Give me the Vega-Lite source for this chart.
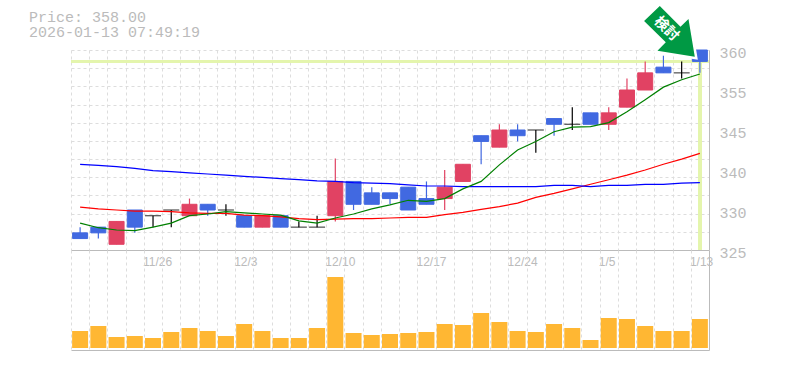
{"$schema":"https://vega.github.io/schema/vega-lite/v6.json","padding":{"left":29,"top":-4,"right":5,"bottom":5},"background":"white","title":{"text":["Price: 358.00","2026-01-13 07:49:19"],"anchor":"start","frame":"group","dx":-42,"offset":-44,"font":"Liberation Mono","fontSize":15,"fontWeight":"normal","color":"#bbbbbb","lineHeight":15},"config":{"view":{"stroke":null},"axis":{"gridColor":"#dddddd","gridDash":[3,3],"gridWidth":1,"domainColor":"#bbbbbb","ticks":false}},"datasets":{"d":[
{"date":"11/19","open":328,"high":329,"low":327,"close":327,"dir":"down","volume":17000,"ma5":329.7,"ma25":332.5,"ma75":340.0},
{"date":"11/20","open":329,"high":329,"low":327,"close":328,"dir":"down","volume":22000,"ma5":328.9,"ma25":332.2,"ma75":339.8},
{"date":"11/21","open":326,"high":330,"low":326,"close":330,"dir":"up","volume":11000,"ma5":328.5,"ma25":332.0,"ma75":339.6},
{"date":"11/25","open":332,"high":332,"low":328,"close":329,"dir":"down","volume":12000,"ma5":328.4,"ma25":331.8,"ma75":339.3},
{"date":"11/26","open":331,"high":331,"low":329,"close":331,"dir":"flat","volume":10000,"ma5":329.0,"ma25":331.8,"ma75":338.9},
{"date":"11/27","open":332,"high":332,"low":329,"close":332,"dir":"flat","volume":16000,"ma5":329.7,"ma25":331.7,"ma75":338.7},
{"date":"11/28","open":331,"high":334,"low":331,"close":333,"dir":"up","volume":20000,"ma5":331.0,"ma25":331.5,"ma75":338.5},
{"date":"12/1","open":333,"high":333,"low":331,"close":332,"dir":"down","volume":17000,"ma5":331.3,"ma25":331.4,"ma75":338.3},
{"date":"12/2","open":332,"high":333,"low":331,"close":332,"dir":"flat","volume":12000,"ma5":331.7,"ma25":331.4,"ma75":338.1},
{"date":"12/3","open":331,"high":331,"low":329,"close":329,"dir":"down","volume":24000,"ma5":331.5,"ma25":331.1,"ma75":337.9},
{"date":"12/4","open":329,"high":331,"low":329,"close":331,"dir":"up","volume":17000,"ma5":331.3,"ma25":331.0,"ma75":337.7},
{"date":"12/5","open":331,"high":331,"low":329,"close":329,"dir":"down","volume":10000,"ma5":331.1,"ma25":330.8,"ma75":337.5},
{"date":"12/8","open":329,"high":330,"low":329,"close":329,"dir":"flat","volume":10000,"ma5":330.1,"ma25":330.5,"ma75":337.3},
{"date":"12/9","open":329,"high":331,"low":329,"close":329,"dir":"flat","volume":20000,"ma5":329.7,"ma25":330.3,"ma75":337.1},
{"date":"12/10","open":331,"high":341,"low":330,"close":337,"dir":"up","volume":71000,"ma5":330.6,"ma25":330.4,"ma75":337.0},
{"date":"12/11","open":337,"high":337,"low":332,"close":333,"dir":"down","volume":15000,"ma5":331.3,"ma25":330.5,"ma75":336.8},
{"date":"12/12","open":335,"high":336,"low":333,"close":333,"dir":"down","volume":13000,"ma5":332.2,"ma25":330.5,"ma75":336.7},
{"date":"12/15","open":335,"high":335,"low":333,"close":334,"dir":"down","volume":14000,"ma5":332.9,"ma25":330.6,"ma75":336.6},
{"date":"12/16","open":336,"high":336,"low":332,"close":332,"dir":"down","volume":15000,"ma5":333.7,"ma25":330.7,"ma75":336.4},
{"date":"12/17","open":334,"high":337,"low":333,"close":333,"dir":"down","volume":16000,"ma5":333.5,"ma25":330.7,"ma75":336.2},
{"date":"12/18","open":334,"high":339,"low":332,"close":336,"dir":"up","volume":24000,"ma5":334.0,"ma25":331.2,"ma75":336.2},
{"date":"12/19","open":337,"high":340,"low":337,"close":340,"dir":"up","volume":23000,"ma5":335.7,"ma25":331.6,"ma75":336.1},
{"date":"12/22","open":345,"high":345,"low":340,"close":344,"dir":"down","volume":35000,"ma5":337.0,"ma25":332.1,"ma75":336.1},
{"date":"12/23","open":343,"high":347,"low":343,"close":346,"dir":"up","volume":26000,"ma5":339.9,"ma25":332.6,"ma75":336.1},
{"date":"12/24","open":346,"high":347,"low":344,"close":345,"dir":"down","volume":17000,"ma5":342.5,"ma25":333.2,"ma75":336.1},
{"date":"12/25","open":346,"high":346,"low":342,"close":346,"dir":"flat","volume":16000,"ma5":344.0,"ma25":334.2,"ma75":336.1},
{"date":"12/26","open":348,"high":348,"low":345,"close":347,"dir":"down","volume":24000,"ma5":345.7,"ma25":334.9,"ma75":336.3},
{"date":"12/29","open":347,"high":350,"low":346,"close":347,"dir":"flat","volume":20000,"ma5":346.5,"ma25":335.7,"ma75":336.3},
{"date":"12/30","open":349,"high":349,"low":347,"close":347,"dir":"down","volume":8000,"ma5":346.6,"ma25":336.5,"ma75":336.1},
{"date":"1/5","open":347,"high":350,"low":346,"close":349,"dir":"up","volume":30000,"ma5":347.3,"ma25":337.3,"ma75":336.3},
{"date":"1/6","open":350,"high":355,"low":350,"close":353,"dir":"up","volume":29000,"ma5":349.2,"ma25":338.1,"ma75":336.3},
{"date":"1/7","open":353,"high":358,"low":353,"close":356,"dir":"up","volume":22000,"ma5":351.3,"ma25":339.0,"ma75":336.5},
{"date":"1/8","open":357,"high":359,"low":356,"close":356,"dir":"down","volume":17000,"ma5":353.5,"ma25":340.0,"ma75":336.5},
{"date":"1/9","open":356,"high":358,"low":355,"close":356,"dir":"flat","volume":17000,"ma5":354.8,"ma25":340.9,"ma75":336.7},
{"date":"1/13","open":360,"high":360,"low":356,"close":358,"dir":"down","volume":29000,"ma5":355.8,"ma25":341.9,"ma75":336.8}
]},"spacing":0,"bounds":"flush","vconcat":[
{"width":638,"height":200,"data":{"name":"d"},"resolve":{"axis":{"y":"independent"}},
"encoding":{"x":{"field":"date","type":"nominal","sort":null,"title":null,"scale":{"paddingInner":0,"paddingOuter":0,"domain":["11/19","11/20","11/21","11/25","11/26","11/27","11/28","12/1","12/2","12/3","12/4","12/5","12/8","12/9","12/10","12/11","12/12","12/15","12/16","12/17","12/18","12/19","12/22","12/23","12/24","12/25","12/26","12/29","12/30","1/5","1/6","1/7","1/8","1/9","1/13"]},"axis":{"orient":"bottom","tickBand":"extent","grid":true,"gridDash":[3,3],"labelAngle":0,"labelAlign":"left","labelOffset":-10.5,"labelPadding":6,"labelFont":"Liberation Sans","labelFontSize":12,"labelColor":"#bbbbbb","labelOverlap":false,"labelBound":false,"labelFlush":false,"domain":true,"labelExpr":"indexof(['11/26','12/3','12/10','12/17','12/24','1/5','1/13'],datum.label)>=0?datum.label:''"}}},
"layer":[
{"mark":{"type":"rule","color":"#e4f5ad","strokeWidth":3},"encoding":{"y":{"datum":358,"type":"quantitative","scale":{"domain":[325,360],"nice":false,"zero":false},"title":null,"axis":{"orient":"left","values":[360,356.82,353.64,350.45,347.27,344.09,340.91,337.73,334.55,331.36,328.18,325],"labels":false,"domain":false,"grid":true}},"x":null}},
{"mark":{"type":"rule","color":"#e4f5ad","strokeWidth":3},"encoding":{"x":{"datum":"1/13"}}},
{"mark":{"type":"rule","strokeWidth":1.2},"encoding":{"y":{"field":"low","type":"quantitative","title":null,"axis":{"orient":"right","values":[360,353,346,339,332,325],"grid":false,"domain":true,"labelExpr":"round(datum.value/5)*5","labelFont":"Liberation Mono","labelFontSize":15,"labelColor":"#bbbbbb","labelPadding":10,"labelOffset":2.5,"labelBound":false,"labelFlush":false}},"y2":{"field":"high"},"color":{"field":"dir","type":"nominal","scale":{"domain":["up","down","flat"],"range":["#e14263","#4169e1","#000000"]},"legend":null}}},
{"transform":[{"filter":"datum.dir!='flat'"}],"mark":{"type":"bar","size":15,"strokeWidth":1},"encoding":{"y":{"field":"open","type":"quantitative","axis":null},"y2":{"field":"close"},"color":{"field":"dir","type":"nominal","legend":null},"stroke":{"field":"dir","type":"nominal","legend":null,"scale":{"domain":["up","down","flat"],"range":["#e14263","#4169e1","#000000"]}}}},
{"transform":[{"filter":"datum.dir=='flat'"}],"mark":{"type":"tick","size":16,"thickness":1.2,"color":"#000000","orient":"horizontal"},"encoding":{"y":{"field":"close","type":"quantitative","axis":null}}},
{"mark":{"type":"line","color":"#ff0000","strokeWidth":1.2},"encoding":{"y":{"field":"ma25","type":"quantitative","axis":null}}},
{"mark":{"type":"line","color":"#0000ff","strokeWidth":1.2},"encoding":{"y":{"field":"ma75","type":"quantitative","axis":null}}},
{"mark":{"type":"line","color":"#008000","strokeWidth":1.2},"encoding":{"y":{"field":"ma5","type":"quantitative","axis":null}}},
{"data":{"values":[{"date":"1/13","price":358}]},"mark":{"type":"point","filled":true,"clip":false,"size":4,"opacity":1,"color":"#009944","stroke":"#ffffff","strokeWidth":5,"strokeOpacity":1,"shape":"M-40.1 -55.4L-55.8 -40.4L-34.1 -19.1L-42.4 -10.7L-5.1 -4.7L-11.4 -42.4L-19.4 -34.7Z"},"encoding":{"y":{"field":"price","type":"quantitative","axis":null}}},
{"data":{"values":[{"date":"1/13","price":358}]},"mark":{"type":"point","filled":true,"clip":false,"size":4,"opacity":1,"color":"#009944","shape":"M-40.1 -55.4L-55.8 -40.4L-34.1 -19.1L-42.4 -10.7L-5.1 -4.7L-11.4 -42.4L-19.4 -34.7Z"},"encoding":{"y":{"field":"price","type":"quantitative","axis":null}}},
{"data":{"values":[{"date":"1/13","price":358,"note":"検討"}]},"mark":{"type":"text","font":"Noto Sans CJK JP","fontWeight":"bold","fontSize":14,"color":"#ffffff","angle":45,"xOffset":-33.6,"yOffset":-32.4,"align":"center","baseline":"middle"},"encoding":{"y":{"field":"price","type":"quantitative","axis":null},"text":{"field":"note"}}}
]},
{"width":638,"height":100,"data":{"name":"d"},"mark":{"type":"bar","size":16,"color":"#ffb733"},"encoding":{"x":{"field":"date","type":"nominal","sort":null,"title":null,"scale":{"paddingInner":0,"paddingOuter":0},"axis":{"orient":"bottom","tickBand":"extent","grid":true,"labels":false,"domain":true}},"y":{"field":"volume","type":"quantitative","scale":{"domain":[-2000,98000],"nice":false,"zero":false},"title":null,"axis":{"orient":"right","labels":false,"grid":false,"domain":true,"values":[]}}}}
]}
